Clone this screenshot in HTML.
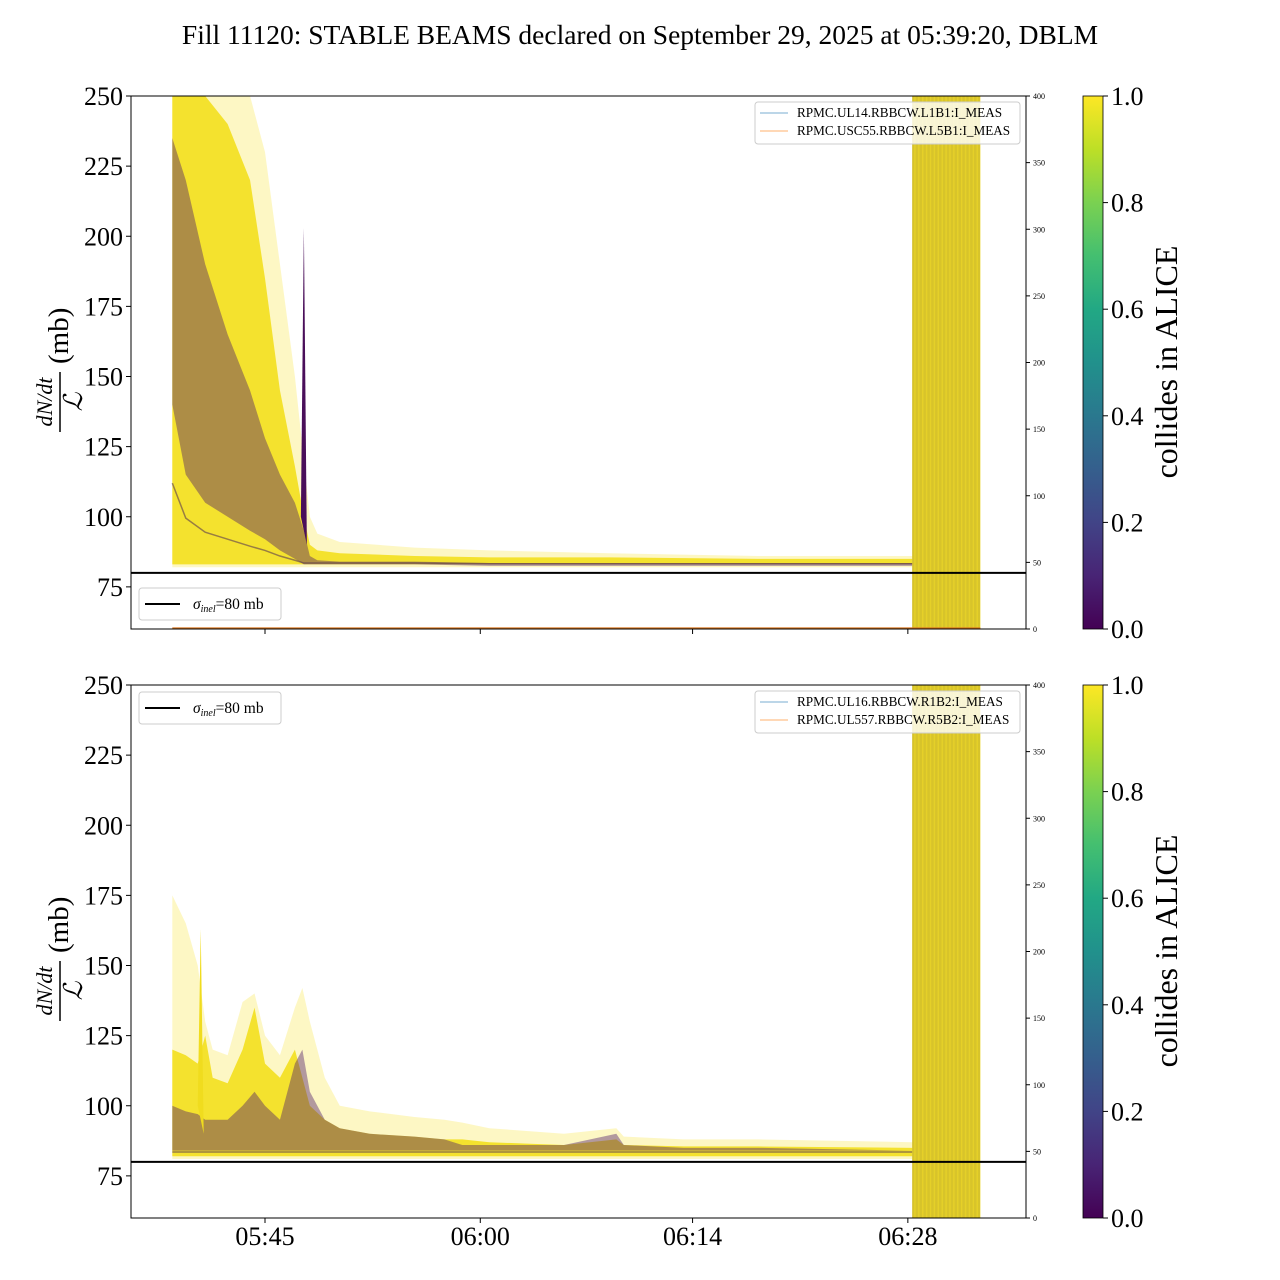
<!DOCTYPE html>
<html><head><meta charset="utf-8">
<style>
body{margin:0;background:#fff;}
svg{display:block;font-family:"Liberation Serif",serif;}
</style></head>
<body>
<svg id="chart" width="1280" height="1280" viewBox="0 0 1280 1280" xmlns="http://www.w3.org/2000/svg">
<defs>
<linearGradient id="viridis" x1="0" y1="1" x2="0" y2="0">
<stop offset="0" stop-color="#440154"/><stop offset="0.1" stop-color="#482475"/><stop offset="0.2" stop-color="#414487"/><stop offset="0.3" stop-color="#355f8d"/><stop offset="0.4" stop-color="#2a788e"/><stop offset="0.5" stop-color="#21918c"/><stop offset="0.6" stop-color="#22a884"/><stop offset="0.7" stop-color="#44bf70"/><stop offset="0.8" stop-color="#7ad151"/><stop offset="0.9" stop-color="#bddf26"/><stop offset="1" stop-color="#fde725"/>
</linearGradient>
</defs>
<text x="640" y="44" font-size="27.5" text-anchor="middle">Fill 11120: STABLE BEAMS declared on September 29, 2025 at 05:39:20, DBLM</text>
<g id="root"></g>
</svg>
<script>
// ---- data (minutes of day) ----
const topTimes = [338.8,339.7,341,342.5,344,345,346,347,347.6,348,348.5,350,355,360,368,378,388.3];
const topLightUpper = [250,250,250,250,250,230,190,150,120,100,94,91,89,88,87,86,86];
const topLightLower = [82,82,82,82,82,82,82,82,82,82,82,82,82,82,82,82,82];
const topCoreUpper = [250,250,250,240,220,185,145,118,100,90,88,87,86,85.5,85.5,85,85];
const topCoreLower = [83,83,83,83,83,83,83,83,83,83,83,83,83,83,83,83,83];
const topPurpleUpper = [235,220,190,165,145,128,115,105,95,86,84.5,84,84,83.5,83.5,83.5,83.5];
const topPurpleLower = [140,115,105,100,95,92,88,85,83,83,83,83,83,82.5,82.5,82.5,82.5];
const topSpikeTimes = [347.4,347.6,347.8];
const topSpikeValues = [100,203,90];

const botTimes = [338.8,339.7,340.5,341,341.5,342.5,343.5,344.3,345,346,347,347.5,348,349,350,352,355,357,358.2,360,365,368.5,369,373,378,388.3];
const botLightUpper = [175,165,150,130,120,118,137,140,125,118,135,142,130,110,100,98,96,95,94,92,90,92,89,88,88,87];
const botLightLower = [81,81,81,81,81,81,81,81,81,81,81,81,81,81,81,81,81,81,81,81,81,81,81,81,81,81];
const botCoreUpper = [120,118,115,125,110,108,120,135,115,110,120,110,100,95,92,90,89,88,88,87,86,88,86,85.5,85.5,85];
const botCoreLower = [82,82,82,82,82,82,82,82,82,82,82,82,82,82,82,82,82,82,82,82,82,82,82,82,82,82];
const botPurpleUpper = [100,98,97,95,95,95,100,105,100,95,115,120,105,95,92,90,89,88,86,86,86,90,86,85,85,84];
const botPurpleLower = [84,84,84,84,84,84,84,84,84,84,84,84,84,84,84,84,84,84,84,84,84,84,84,84,84,84];
const botSpikeTimes = [340.5,340.7,340.9];
const botSpikeValues = [100,163,90];

const bandStart = 388.3, bandEnd = 392.85;
const yTicks = [75,100,125,150,175,200,225,250];
const rightTicks = [0,50,100,150,200,250,300,350,400];
const cbTicks = [0.0,0.2,0.4,0.6,0.8,1.0];
const xTickTimes = [345,359.4,373.6,388];
const xTickLabels = ['05:45','06:00','06:14','06:28'];
const sigmaInel = 80;

// ---- layout ----
const NS='http://www.w3.org/2000/svg';
const root=document.getElementById('root');
const AX0=131, AX1=1026;
const xs = m => 265 + (m-345)*14.95;
function mk(tag, attrs, parent){const e=document.createElementNS(NS,tag);for(const k in attrs)e.setAttribute(k,attrs[k]);(parent||root).appendChild(e);return e;}

function panel(idx, top, times, lu, ll, cu, cl, pu, pl, st, sv, legendTop, names){
  const bot=top+533;
  const ys = v => top + (250-v)*2.805;
  const g=mk('g',{});
  
  
  const clip=mk('clipPath',{id:'clip'+idx},g);
  mk('rect',{x:AX0,y:top,width:AX1-AX0,height:533},clip);
  const dg=mk('g',{'clip-path':'url(#clip'+idx+')'},g);
  function band(up,lo,fill,op,name){
    let pts=times.map((t,i)=>xs(t)+','+ys(up[i]));
    for(let i=times.length-1;i>=0;i--)pts.push(xs(times[i])+','+ys(lo[i]));
    const p=mk('polygon',{points:pts.join(' '),fill:fill,'fill-opacity':op},dg);
    
    
  }
  band(lu,ll,'#fbef8a',0.5,'light-yellow-traces');
  band(cu,cl,'#f3df1e',0.9,'yellow-traces');
  band(pu,pl,'#4a1868',0.42,'purple-traces');
  const core=mk('polyline',{points:times.map((t,i)=>xs(t)+','+ys((pl[i]+cl[i])/2+0.5)).join(' '),fill:'none',stroke:'#5a3a50','stroke-width':1.5,'stroke-opacity':0.6},dg);
  
  
  const sp=mk('polygon',{points:st.map((t,i)=>xs(t)+','+ys(sv[i])).join(' '),fill:idx===0?'#4a0f5a':'#f0dc1e'},dg);
  
  
  const br=mk('rect',{x:xs(bandStart),y:top,width:xs(bandEnd)-xs(bandStart),height:533,fill:'#ecd628'},dg);
  
  
  for(let t=bandStart;t<bandEnd;t+=0.09){
    mk('line',{x1:xs(t),x2:xs(t),y1:top,y2:bot,stroke:'#a89a30','stroke-width':0.5,'stroke-opacity':0.6},dg);
  }
  if(idx===0){const ol=mk('line',{x1:xs(338.8),x2:xs(bandEnd),y1:bot-1,y2:bot-1,stroke:'#d8731c','stroke-width':1.2},dg);
    }
  const sl=mk('line',{x1:AX0,x2:AX1,y1:ys(sigmaInel),y2:ys(sigmaInel),stroke:'#000','stroke-width':2},g);
  
  
  const fr=mk('rect',{x:AX0,y:top,width:AX1-AX0,height:533,fill:'none',stroke:'#000','stroke-width':1},g);
  
  
  yTicks.forEach(v=>{
    mk('line',{x1:AX0-5,x2:AX0,y1:ys(v),y2:ys(v),stroke:'#000'},g);
    const t=mk('text',{x:AX0-8,y:ys(v)+9,'font-size':26,'text-anchor':'end'},g);t.textContent=v;
    
    
  });
  rightTicks.forEach(v=>{
    const y=bot-v*533/400;
    mk('line',{x1:AX1,x2:AX1+4,y1:y,y2:y,stroke:'#000'},g);
    const t=mk('text',{x:AX1+7,y:y+3,'font-size':8},g);t.textContent=v;
    
    
  });
  xTickTimes.forEach((m,i)=>{
    mk('line',{x1:xs(m),x2:xs(m),y1:bot,y2:bot+5,stroke:'#000'},g);
    if(idx===1){const t=mk('text',{x:xs(m),y:bot+27,'font-size':26,'text-anchor':'middle'},g);t.textContent=xTickLabels[i];
      
      }
  });
  const yl=mk('g',{transform:'translate(60,'+(top+266)+') rotate(-90)'},g);
  
  
  let a=mk('text',{x:-40,y:-8,'font-size':22,'font-style':'italic','text-anchor':'middle'},yl);a.textContent='dN/dt';
  mk('line',{x1:-70,x2:-10,y1:0,y2:0,stroke:'#000','stroke-width':1.5},yl);
  a=mk('text',{x:-40,y:22,'font-size':26,'font-style':'italic','text-anchor':'middle'},yl);a.textContent='ℒ';
  a=mk('text',{x:-2,y:8,'font-size':29},yl);a.textContent='(mb)';
  const lg=mk('g',{},g);
  
  
  mk('rect',{x:755,y:top+6,width:265,height:42,rx:3,fill:'#fff','fill-opacity':0.8,stroke:'#ccc'},lg);
  [['#1f77b4',names[0]],['#ff7f0e',names[1]]].forEach((e,i)=>{
    const y=top+17+i*18;
    mk('line',{x1:760,x2:788,y1:y,y2:y,stroke:e[0],'stroke-width':1,'stroke-opacity':0.6},lg);
    const t=mk('text',{x:797,y:y+4,'font-size':13.2},lg);t.textContent=e[1];
    
    
  });
  const sg=mk('g',{},g);
  
  
  mk('rect',{x:139,y:legendTop,width:142,height:32,rx:3,fill:'#fff','fill-opacity':0.8,stroke:'#ccc'},sg);
  mk('line',{x1:145,x2:180,y1:legendTop+16,y2:legendTop+16,stroke:'#000','stroke-width':2},sg);
  const st2=mk('text',{x:193,y:legendTop+21,'font-size':15.5},sg);
  st2.innerHTML='<tspan font-style="italic">σ</tspan><tspan font-style="italic" font-size="10" dy="3">inel</tspan><tspan dy="-3">=80 mb</tspan>';
  const cb=mk('g',{},g);
  
  
  mk('rect',{x:1083,y:top,width:20,height:533,fill:'url(#viridis)',stroke:'#000','stroke-width':0.8},cb);
  cbTicks.forEach(v=>{
    const y=bot-v*533;
    mk('line',{x1:1103,x2:1108,y1:y,y2:y,stroke:'#000'},cb);
    const t=mk('text',{x:1111,y:y+9,'font-size':26},cb);t.textContent=v.toFixed(1);
    
    
  });
  const cl2=mk('text',{x:0,y:0,'font-size':32,'text-anchor':'middle',transform:'translate(1177,'+(top+266)+') rotate(-90)'},cb);
  cl2.textContent='collides in ALICE';
  
  
}
panel(0,96,topTimes,topLightUpper,topLightLower,topCoreUpper,topCoreLower,topPurpleUpper,topPurpleLower,topSpikeTimes,topSpikeValues,588,['RPMC.UL14.RBBCW.L1B1:I_MEAS','RPMC.USC55.RBBCW.L5B1:I_MEAS']);
panel(1,685,botTimes,botLightUpper,botLightLower,botCoreUpper,botCoreLower,botPurpleUpper,botPurpleLower,botSpikeTimes,botSpikeValues,692,['RPMC.UL16.RBBCW.R1B2:I_MEAS','RPMC.UL557.RBBCW.R5B2:I_MEAS']);
</script>
</body></html>
